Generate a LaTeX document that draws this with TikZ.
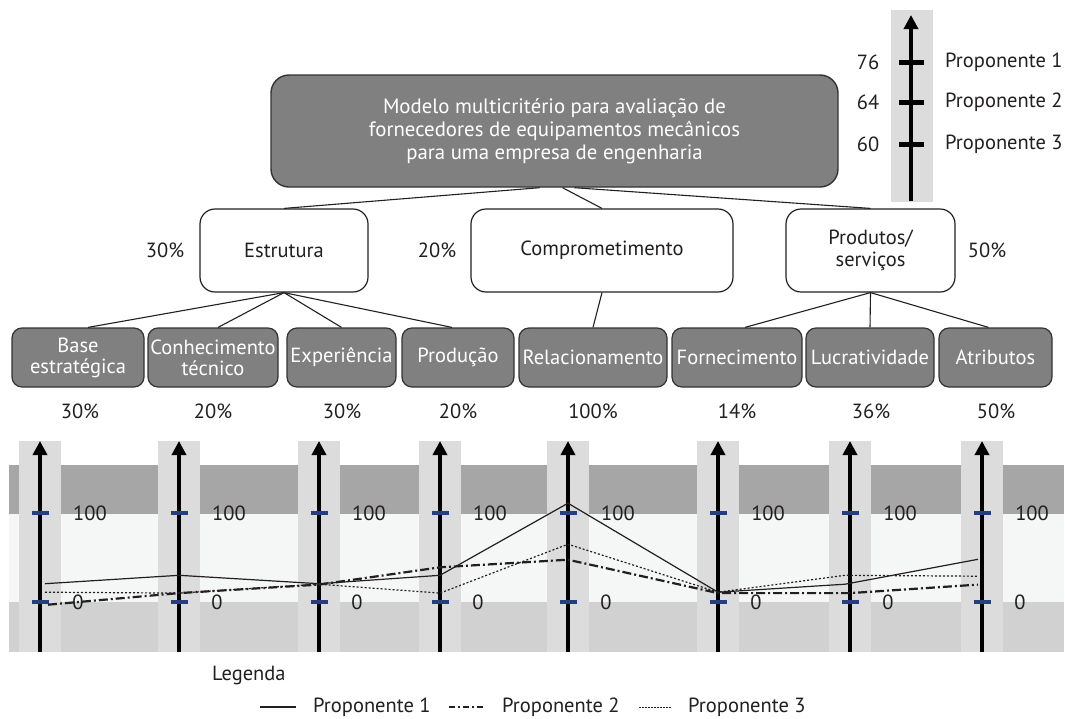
\documentclass[tikz,border=0pt]{standalone}
\usepackage{fontspec}
\setmainfont{PT Sans}
\usetikzlibrary{arrows.meta}

\definecolor{ink}{HTML}{231F20}
\definecolor{boxgray}{HTML}{808080}
\definecolor{boxline}{HTML}{333333}
\definecolor{bandtop}{HTML}{A6A6A6}
\definecolor{bandmid}{HTML}{F5F7F6}
\definecolor{bandlow}{HTML}{D1D1D1}
\definecolor{column}{HTML}{DCDCDC}
\definecolor{tickblue}{RGB}{38,62,128}

\tikzset{
  txt/.style={font=\fontsize{20.5}{23}\selectfont, text=ink, inner sep=0pt},
  rootbox/.style={draw=boxline, line width=1.4pt, fill=boxgray, rounded corners=18pt,
    text=white, align=center, font=\fontsize{20.8}{23}\selectfont, inner sep=0pt},
  critbox/.style={draw=ink, line width=1.2pt, fill=white, rounded corners=15pt,
    text=ink, align=center, font=\fontsize{20.5}{22}\selectfont, inner sep=0pt,
    minimum height=83pt},
  subbox/.style={draw=boxline, line width=1.2pt, fill=boxgray, rounded corners=10pt,
    text=white, align=center, font=\fontsize{20.5}{21}\selectfont, inner sep=0pt,
    minimum height=59pt},
  link/.style={draw=ink, line width=1.1pt},
  axisarrow/.style={line width=4.5pt, -{Triangle[width=14pt,length=14pt]}},
  p1/.style={line width=1.2pt, ink},
  p2/.style={line width=2.2pt, ink, dash pattern=on 9pt off 3pt on 2pt off 3pt},
  p3/.style={line width=1.2pt, ink, dash pattern=on 2pt off 2pt},
}

\begin{document}
\begin{tikzpicture}[x=1pt, y=-1pt]
\useasboundingbox (0,0) rectangle (1065,718);

% ---- overall score scale (top right)
\fill[column] (891,10) rectangle (933,202);
\draw[axisarrow] (911,201) -- (911,15);
\foreach \yy/\val/\nm in {62/76/1, 102/64/2, 144/60/3}{
  \draw[line width=5pt] (899,\yy) -- (924,\yy);
  \node[txt] (sv\nm) at (868,\yy) {\val};
  \node[txt, anchor=west] (sp\nm) at (945,\yy) {Proponente \nm};
}

% ---- hierarchy
\node[rootbox, minimum width=567pt, minimum height=112pt] (top) at (554.5,131)
  {Modelo multicritério para avaliação de\\fornecedores de equipamentos mecânicos\\para uma empresa de engenharia};

\node[critbox, minimum width=168pt] (est)  at (284,250.5) {Estrutura};
\node[critbox, minimum width=262pt] (comp) at (602,250.5) {Comprometimento};
\node[critbox, minimum width=169pt] (prod) at (870.5,250.5) {Produtos/\\serviços};

\node[txt] (west) at (165,250) {30\%};
\node[txt] (wcomp) at (437,250) {20\%};
\node[txt] (wprod) at (987,250) {50\%};

\node[subbox, minimum width=132pt] (base) at (78,357.5)   {Base\\estratégica};
\node[subbox, minimum width=130pt] (conh) at (213,357.5)  {Conhecimento\\técnico};
\node[subbox, minimum width=109pt] (expe) at (341.5,357.5){Experiência};
\node[subbox, minimum width=112pt] (prdc) at (458,357.5)  {Produção};
\node[subbox, minimum width=148pt] (rela) at (593,357.5)  {Relacionamento};
\node[subbox, minimum width=130pt] (forn) at (737,357.5)  {Fornecimento};
\node[subbox, minimum width=128pt] (lucr) at (870,357.5)  {Lucratividade};
\node[subbox, minimum width=113pt] (atri) at (995.5,357.5){Atributos};

\foreach \n/\x/\w in {base/80/30, conh/213/20, expe/342/30, prdc/458/20,
                      rela/593/100, forn/737/14, lucr/871/36, atri/996/50}{
  \node[txt] (w\n) at (\x,411) {\w\%};
}

\draw[link] ([xshift=-15pt]top.south) -- (est.north);
\draw[link] ([xshift=8pt]top.south)   -- (comp.north);
\draw[link] ([xshift=20pt]top.south)  -- (prod.north);

\draw[link] (est.south) -- ([xshift=10pt]base.north);
\draw[link] (est.south) -- ([xshift=5pt]conh.north);
\draw[link] (est.south) -- (expe.north);
\draw[link] (est.south) -- ([xshift=-6pt]prdc.north);
\draw[link] (comp.south) -- (rela.north);
\draw[link] (prod.south) -- ([xshift=8pt]forn.north);
\draw[link] (prod.south) -- (lucr.north);
\draw[link] (prod.south) -- ([xshift=-7pt]atri.north);

% ---- value profiles
\fill[bandtop] (9,465) rectangle (1064,514);
\fill[bandmid] (9,514) rectangle (1064,602);
\fill[bandlow] (9,602) rectangle (1064,652);

\foreach \x in {40,179,319,440,568,718,850,982}{
  \fill[column] (\x-21,441) rectangle (\x+21,652);
  \draw[axisarrow] (\x,652) -- (\x,441);
  \draw[tickblue, line width=4pt] (\x-8.5,513) -- (\x+8.5,513);
  \draw[tickblue, line width=4pt] (\x-8.5,602) -- (\x+8.5,602);
  \node[txt] at (\x+50,513) {100};
  \node[txt] at (\x+38,602) {0};
}

% Proponente 1
\draw[p1] (45,583.7) -- (179,575.3) -- (319,583.7) -- (440,575.3) -- (568,503.2)
  -- (718,592.2) -- (845,584.2) -- (978,559.3);
% Proponente 2
\draw[p2] (48,604.7) -- (179,593.1) -- (319,584.6) -- (440,567.3) -- (568,559.7)
  -- (718,593.1) -- (850,593.1) -- (978,584.6);
% Proponente 3
\draw[p3] (45,592.2) -- (179,593.1) -- (319,584.2) -- (440,593.1) -- (568,544.2)
  -- (718,592.2) -- (845,575.3) -- (978,576.2);

% ---- legend
\node[txt, anchor=west] (leg) at (212,675) {Legenda};
\coordinate (l1a) at (260,707); \coordinate (l1b) at (296,707);
\coordinate (l2a) at (449,707); \coordinate (l2b) at (484,707);
\coordinate (l3a) at (639,707); \coordinate (l3b) at (671,707);
\draw[p1] (l1a) -- (l1b);
\draw[p2, dash pattern=on 6pt off 3pt on 2pt off 3pt] (l2a) -- (l2b);
\draw[p3, line width=0.9pt, dash pattern=on 1.5pt off 1.5pt] (l3a) -- (l3b);
\node[txt, anchor=west] (lt1) at (313,707) {Proponente 1};
\node[txt, anchor=west] (lt2) at (502,707) {Proponente 2};
\node[txt, anchor=west] (lt3) at (688,707) {Proponente 3};
\end{tikzpicture}
\end{document}
